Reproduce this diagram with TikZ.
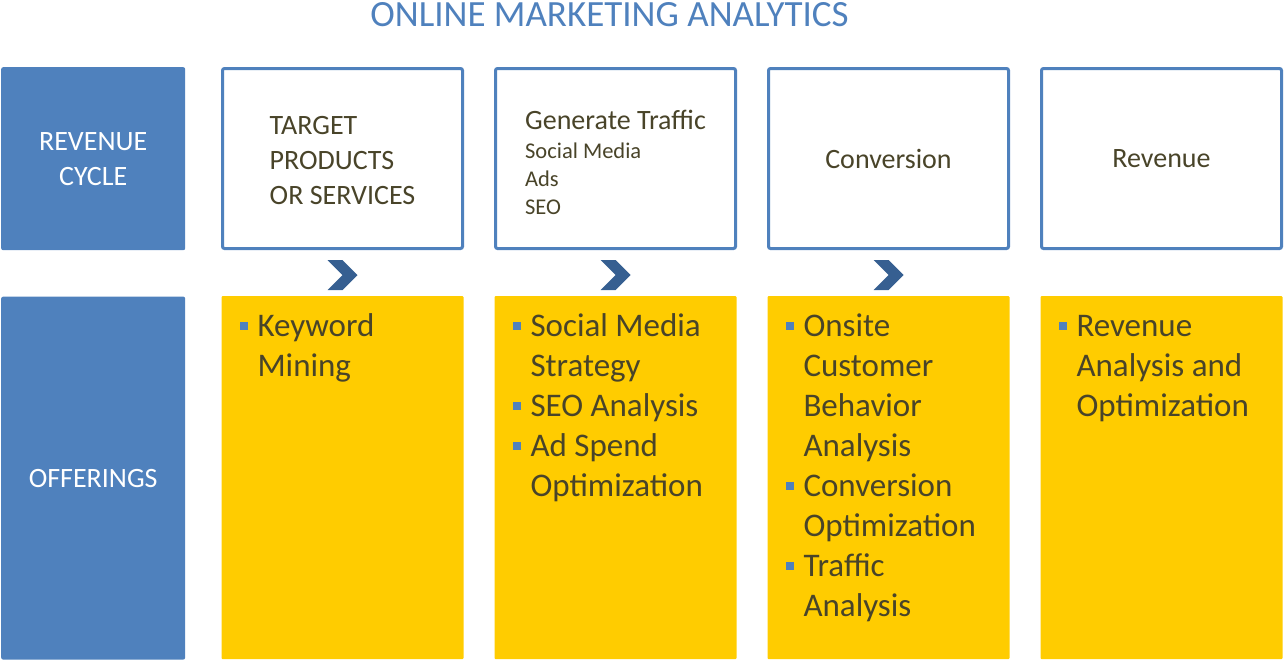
\documentclass[tikz,border=0pt]{standalone}
\usepackage{fontspec}
\setmainfont{Carlito}
\usepackage{tikz}
\usetikzlibrary{positioning, calc}
\definecolor{cycleblue}{HTML}{4F81BD}
\definecolor{chevblue}{HTML}{365F91}
\definecolor{offeryellow}{HTML}{FFCC00}
\definecolor{textdark}{HTML}{494429}

\newcommand{\sqbul}{\textcolor{cycleblue}{\rule[6.5pt]{8pt}{8pt}}}
\newcommand{\subf}{\fontsize{22.5}{28}\selectfont}

\begin{document}
\begin{tikzpicture}[
    x=1pt, y=-1pt,
    heading/.style={text=cycleblue, font=\fontsize{37}{44}\selectfont, inner sep=0pt},
    rowhead/.style={fill=cycleblue, text=white, rounded corners=2pt, inner sep=0pt,
        minimum width=184pt, align=center, font=\fontsize{28}{35}\selectfont},
    stagebox/.style={draw=cycleblue, line width=3pt, fill=white, rounded corners=2pt,
        minimum width=240pt, minimum height=180pt, inner sep=0pt,
        text=textdark, align=left, font=\fontsize{28}{35}\selectfont},
    offerbox/.style={fill=offeryellow, rounded corners=1pt, inner sep=0pt,
        minimum width=242pt, minimum height=363pt},
    offerlist/.style={inner sep=0pt, text=textdark, align=left,
        font=\fontsize{33}{40}\selectfont},
    chevron/.style={fill=chevblue}
]
    \useasboundingbox (0,0) rectangle (1284,659);

    % Title
    \node[heading, anchor=base] (title) at (609.5,26) {ONLINE MARKETING ANALYTICS};

    % Top row: revenue cycle
    \node[rowhead, minimum height=183pt, anchor=north west] (revcycle) at (1,67) {REVENUE\\CYCLE};
    \node[stagebox, anchor=north west] (target) at (221,67) {\rule{0pt}{22pt}TARGET\\PRODUCTS\\OR SERVICES};
    \node[stagebox, right=30pt of target] (traffic) {\rule{0pt}{27pt}Generate Traffic\\[-6pt]\subf Social Media\\[-7pt]\subf Ads\\[-7pt]\subf SEO};
    \node[stagebox, right=30pt of traffic] (conversion) {Conversion};
    \node[stagebox, right=30pt of conversion] (revenue) {Revenue};

    % Chevrons between the rows
    \fill[chevron] ($(target.south)+(-15,10)$) -- ++(15,0) -- ++(15,15) -- ++(-15,15) -- ++(-15,0) -- ++(15,-15) -- cycle;
    \fill[chevron] ($(traffic.south)+(-15,10)$) -- ++(15,0) -- ++(15,15) -- ++(-15,15) -- ++(-15,0) -- ++(15,-15) -- cycle;
    \fill[chevron] ($(conversion.south)+(-15,10)$) -- ++(15,0) -- ++(15,15) -- ++(-15,15) -- ++(-15,0) -- ++(15,-15) -- cycle;

    % Bottom row: offerings
    \node[rowhead, minimum height=363pt, below=46pt of revcycle] (offerings) {OFFERINGS};
    \node[offerbox, below=46pt of target] (kwbox) {};
    \node[offerbox, below=46pt of traffic] (trafficbox) {};
    \node[offerbox, below=46pt of conversion] (convbox) {};
    \node[offerbox, below=46pt of revenue] (revbox) {};

    \node[offerlist, below right=12pt and 18.5pt of kwbox.north west] (kwlist) {%
        \begin{tabular}{@{}l@{\hspace{9.5pt}}l@{}}
        \sqbul & Keyword\\
               & Mining
        \end{tabular}};
    \node[offerlist, below right=12pt and 18.5pt of trafficbox.north west] (trafficlist) {%
        \begin{tabular}{@{}l@{\hspace{9.5pt}}l@{}}
        \sqbul & Social Media\\
               & Strategy\\
        \sqbul & SEO Analysis\\
        \sqbul & Ad Spend\\
               & Optimization
        \end{tabular}};
    \node[offerlist, below right=12pt and 18.5pt of convbox.north west] (convlist) {%
        \begin{tabular}{@{}l@{\hspace{9.5pt}}l@{}}
        \sqbul & Onsite\\
               & Customer\\
               & Behavior\\
               & Analysis\\
        \sqbul & Conversion\\
               & Optimization\\
        \sqbul & Traffic\\
               & Analysis
        \end{tabular}};
    \node[offerlist, below right=12pt and 18.5pt of revbox.north west] (revlist) {%
        \begin{tabular}{@{}l@{\hspace{9.5pt}}l@{}}
        \sqbul & Revenue\\
               & Analysis and\\
               & Optimization
        \end{tabular}};
\end{tikzpicture}
\end{document}
